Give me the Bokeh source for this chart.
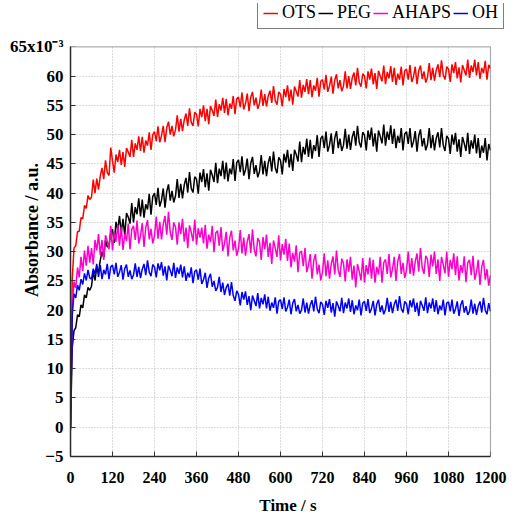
from bokeh.plotting import figure
from bokeh.models import Range1d, Legend, LegendItem, FixedTicker, BoxAnnotation
from bokeh.embed import file_html
from bokeh.resources import INLINE

time_s = list(range(0, 1205, 5))

ots = [
    0.0, 25.4, 30.6, 31.0, 33.4, 33.5, 35.8, 35.6, 37.9, 37.4, 39.6, 38.9,
    39.3, 42.3, 40.0, 42.5, 40.6, 42.9, 44.3, 42.4, 45.6, 43.5, 43.0, 47.8,
    45.5, 43.5, 46.6, 45.3, 47.4, 44.8, 47.0, 44.5, 47.7, 47.0, 46.2, 49.1,
    46.2, 48.5, 47.4, 49.7, 47.2, 49.6, 46.9, 49.0, 48.1, 50.4, 47.4, 50.0,
    50.5, 48.9, 51.4, 48.7, 49.8, 51.5, 48.7, 51.2, 52.2, 50.0, 51.5, 49.7,
    50.8, 53.3, 50.5, 52.7, 50.6, 52.5, 53.6, 51.5, 54.5, 52.1, 51.5, 53.8,
    53.5, 51.4, 54.4, 53.0, 55.0, 52.3, 54.4, 51.8, 54.9, 54.1, 53.2, 56.0,
    53.0, 55.2, 54.1, 56.3, 53.7, 56.1, 53.3, 55.3, 54.4, 56.6, 53.5, 56.1,
    56.4, 54.7, 57.2, 54.3, 55.3, 57.0, 54.0, 56.4, 57.3, 55.0, 56.3, 54.4,
    55.3, 57.7, 54.9, 56.9, 54.8, 56.6, 57.5, 55.4, 58.3, 55.8, 55.1, 57.3,
    56.9, 54.8, 57.8, 56.4, 58.4, 55.7, 57.7, 55.1, 58.2, 57.4, 56.5, 59.3,
    56.3, 58.5, 57.3, 59.5, 56.9, 59.3, 56.4, 58.4, 57.5, 59.7, 56.5, 59.1,
    59.4, 57.7, 60.2, 57.3, 58.3, 59.9, 57.0, 59.3, 60.3, 57.9, 59.3, 57.4,
    58.3, 60.8, 57.9, 60.0, 57.8, 59.7, 60.6, 58.4, 61.4, 58.9, 58.2, 60.4,
    60.0, 57.9, 60.8, 59.4, 61.3, 58.6, 60.5, 57.8, 60.9, 60.0, 59.1, 61.8,
    58.6, 60.7, 59.6, 61.7, 59.0, 61.4, 58.5, 60.4, 59.4, 61.6, 58.4, 60.9,
    61.2, 59.4, 61.9, 59.0, 59.9, 61.6, 58.6, 60.9, 61.8, 59.5, 60.8, 58.9,
    59.8, 62.2, 59.3, 61.4, 59.2, 61.0, 62.0, 59.8, 62.7, 60.2, 59.4, 61.6,
    61.2, 59.0, 62.0, 60.5, 62.4, 59.6, 61.5, 58.9, 61.9, 61.0, 60.1, 62.8,
    59.7, 61.8, 60.7, 62.8, 60.1, 62.4, 59.5, 61.4, 60.5, 62.6, 59.4, 61.9,
    61.3,
]

peg = [
    0.0, 13.6, 16.5, 17.0, 19.2, 18.9, 20.9, 20.4, 22.6, 22.1, 23.9, 23.4,
    24.1, 26.6, 25.1, 27.3, 26.4, 28.5, 30.0, 29.0, 32.0, 30.8, 31.0, 33.3,
    33.8, 31.5, 35.1, 33.7, 36.1, 33.2, 35.6, 32.8, 36.6, 35.9, 34.8, 38.3,
    35.0, 37.6, 36.4, 39.1, 36.0, 38.9, 35.8, 38.1, 37.2, 39.9, 36.3, 39.4,
    40.0, 38.0, 40.9, 37.7, 38.8, 40.8, 37.5, 40.3, 41.5, 38.7, 40.4, 38.4,
    39.5, 42.4, 39.2, 41.6, 39.1, 41.4, 42.6, 40.1, 43.6, 40.8, 40.1, 42.8,
    42.4, 39.9, 43.5, 41.9, 44.1, 41.0, 43.4, 40.4, 44.0, 43.1, 41.9, 45.2,
    41.7, 44.2, 42.9, 45.5, 42.4, 45.2, 42.0, 44.2, 43.2, 45.8, 42.1, 45.2,
    45.7, 43.6, 46.3, 43.0, 44.0, 45.9, 42.4, 45.1, 46.2, 43.3, 44.8, 42.7,
    43.7, 46.5, 43.2, 45.5, 42.9, 45.2, 46.3, 43.7, 47.1, 44.3, 43.4, 46.1,
    45.6, 43.2, 46.7, 45.2, 47.4, 44.4, 46.7, 43.8, 47.4, 46.6, 45.4, 48.8,
    45.3, 47.9, 46.6, 49.3, 46.2, 49.1, 45.9, 48.2, 47.2, 49.9, 46.2, 49.3,
    49.8, 47.7, 50.5, 47.1, 48.2, 50.2, 46.7, 49.4, 50.6, 47.7, 49.3, 47.2,
    48.2, 51.0, 47.6, 50.0, 47.4, 49.6, 50.6, 48.1, 51.5, 48.7, 47.8, 50.4,
    49.9, 47.3, 50.7, 49.1, 51.2, 48.0, 50.2, 47.1, 50.7, 49.7, 48.5, 51.7,
    48.1, 50.5, 49.1, 51.6, 48.4, 51.0, 47.7, 49.8, 48.6, 51.1, 47.3, 50.1,
    50.5, 48.4, 51.1, 47.8, 48.8, 50.6, 47.1, 49.8, 50.9, 48.0, 49.4, 47.3,
    48.3, 51.1, 47.7, 49.9, 47.3, 49.4, 50.4, 47.8, 51.1, 48.2, 47.2, 49.8,
    49.3, 46.7, 50.0, 48.3, 50.3, 47.1, 49.2, 46.2, 49.6, 48.5, 47.2, 50.3,
    46.7, 49.0, 47.6, 50.0, 46.8, 49.4, 46.0, 48.1, 46.9, 49.4, 45.6, 48.4,
    47.3,
]

ahaps = [
    0.0, 20.4, 24.9, 23.8, 27.3, 25.6, 29.1, 26.7, 30.2, 27.6, 31.0, 28.1,
    30.6, 27.8, 32.0, 30.2, 33.0, 29.4, 32.0, 28.6, 32.8, 31.8, 30.4, 34.4,
    30.2, 33.2, 31.7, 34.6, 31.0, 34.3, 30.3, 33.0, 31.8, 34.8, 30.4, 33.8,
    34.4, 32.0, 35.3, 31.4, 32.7, 34.9, 30.8, 34.1, 35.4, 32.1, 33.9, 31.4,
    32.7, 36.0, 32.2, 35.1, 32.1, 34.7, 36.1, 32.9, 36.8, 33.3, 32.0, 35.0,
    34.2, 31.2, 35.0, 33.0, 35.6, 31.7, 34.1, 30.6, 34.5, 33.3, 31.8, 35.5,
    31.2, 34.0, 32.4, 34.1, 31.4, 34.6, 30.5, 32.9, 31.6, 34.4, 29.9, 33.2,
    33.6, 31.0, 34.2, 30.1, 31.4, 33.4, 29.2, 32.4, 33.6, 30.2, 31.9, 29.3,
    30.5, 33.7, 29.7, 32.4, 29.3, 31.7, 33.0, 29.8, 33.8, 30.3, 29.2, 32.3,
    31.7, 28.6, 32.5, 30.4, 32.9, 29.1, 31.5, 27.9, 31.9, 30.6, 29.1, 32.8,
    28.5, 31.3, 29.5, 32.2, 28.4, 31.4, 27.3, 29.8, 28.3, 31.1, 26.5, 29.8,
    30.1, 27.5, 30.6, 26.5, 27.7, 29.6, 25.4, 28.5, 29.6, 26.1, 27.8, 25.1,
    26.5, 29.7, 25.8, 28.5, 25.4, 27.9, 29.2, 26.1, 30.2, 26.8, 25.7, 28.8,
    28.0, 24.9, 28.7, 26.6, 29.1, 25.2, 27.6, 23.9, 27.9, 26.6, 25.1, 28.9,
    24.7, 27.7, 26.1, 29.0, 25.4, 28.6, 24.7, 27.4, 26.1, 29.1, 24.7, 28.1,
    28.7, 26.2, 29.6, 25.6, 27.0, 29.1, 25.0, 28.3, 29.6, 26.2, 28.1, 25.5,
    26.8, 30.0, 26.2, 28.9, 25.9, 28.3, 29.7, 26.6, 30.6, 27.2, 26.2, 29.3,
    28.7, 25.7, 29.5, 27.5, 30.0, 26.2, 28.7, 25.0, 29.1, 27.8, 26.3, 30.0,
    25.7, 28.6, 27.0, 29.7, 26.0, 29.2, 25.1, 27.7, 26.4, 29.2, 24.8, 28.1,
    28.6, 26.0, 29.3, 25.2, 26.5, 28.6, 24.3, 27.4, 28.6, 25.2, 27.0, 24.2,
    26.0,
]

oh = [
    -0.5, 19.2, 22.8, 22.1, 24.3, 23.4, 25.3, 24.4, 26.3, 25.1, 26.9, 25.5,
    25.3, 27.1, 26.2, 27.9, 25.7, 27.7, 25.3, 26.9, 26.1, 27.9, 25.3, 27.4,
    27.7, 26.1, 28.1, 25.7, 26.5, 27.7, 25.2, 27.1, 27.8, 25.7, 26.8, 25.3,
    26.0, 28.0, 25.7, 27.4, 25.5, 27.0, 27.9, 26.0, 28.5, 26.5, 25.8, 27.8,
    27.4, 25.6, 28.0, 26.8, 28.2, 25.9, 27.5, 25.1, 27.6, 26.8, 25.8, 28.1,
    25.5, 27.3, 26.2, 27.8, 25.6, 27.5, 25.0, 26.4, 25.6, 27.3, 24.6, 26.6,
    26.9, 25.2, 27.1, 24.5, 25.2, 26.4, 23.8, 25.5, 26.2, 24.0, 25.0, 23.3,
    23.9, 25.7, 23.1, 24.7, 22.6, 23.9, 24.5, 22.5, 24.8, 22.5, 21.6, 23.3,
    22.7, 20.8, 23.1, 21.8, 23.2, 20.9, 22.4, 20.0, 22.5, 21.6, 20.7, 22.9,
    20.3, 22.1, 21.0, 22.7, 20.3, 22.3, 19.9, 21.3, 20.4, 22.2, 19.4, 21.5,
    21.8, 20.2, 22.2, 19.8, 20.5, 21.8, 19.3, 21.2, 21.9, 19.8, 20.9, 19.4,
    20.0, 22.0, 19.6, 21.3, 19.4, 20.9, 21.7, 19.8, 22.3, 20.2, 19.5, 21.4,
    21.0, 19.2, 21.6, 20.4, 21.9, 19.6, 21.2, 18.9, 21.5, 20.7, 19.8, 22.1,
    19.5, 21.3, 20.3, 22.0, 19.7, 21.7, 19.3, 20.8, 20.0, 21.8, 19.1, 21.2,
    21.5, 19.9, 21.9, 19.5, 20.3, 21.6, 19.1, 21.0, 21.8, 19.7, 20.8, 19.3,
    20.1, 22.1, 19.7, 21.4, 19.5, 21.0, 21.8, 19.9, 22.4, 20.3, 19.6, 21.5,
    21.1, 19.3, 21.7, 20.5, 22.0, 19.7, 21.3, 19.0, 21.6, 20.8, 19.9, 22.2,
    19.5, 21.3, 20.3, 22.0, 19.7, 21.7, 19.3, 20.8, 20.0, 21.8, 19.1, 21.2,
    21.4, 19.8, 21.8, 19.4, 20.2, 21.5, 19.0, 20.9, 21.7, 19.6, 20.7, 19.2,
    19.8, 21.8, 19.4, 21.1, 19.2, 20.7, 21.5, 19.6, 22.1, 20.0, 19.3, 21.2,
    19.8,
]

series_names = ["OTS", "PEG", "AHAPS", "OH"]
series_colors = ["#ff0000", "#000000", "#ff00cc", "#0000ff"]
x_ticks = [0, 120, 240, 360, 480, 600, 720, 840, 960, 1080, 1200]
y_ticks = [-5, 0, 5, 10, 15, 20, 25, 30, 35, 40, 45, 50, 55, 60, 65]
top_tick_label = "65x10\u207b\u00b3"
x_min, x_max, x_room = 0, 1200, 1242.9
y_min, y_max, y_room = -5, 65, 72.4

SERIF = "Liberation Serif"

p = figure(width=511, height=517, output_backend="svg", toolbar_location=None,
           x_range=Range1d(x_min, x_room), y_range=Range1d(y_min, y_room),
           min_border_left=70, min_border_right=6, min_border_top=3, min_border_bottom=58)
p.background_fill_color = "white"
p.border_fill_color = "white"
p.outline_line_color = None

renderers = []
for name, col, ys in zip(series_names, series_colors, [ots, peg, ahaps, oh]):
    r = p.line(time_s, ys, line_color=col, line_width=1.5)
    renderers.append(r)

# blank margins above and right of the data area (room for the legend), then the frame
p.add_layout(BoxAnnotation(bottom=y_max, fill_color="white", fill_alpha=1, line_color=None))
p.add_layout(BoxAnnotation(left=x_max, fill_color="white", fill_alpha=1, line_color=None))
p.add_layout(BoxAnnotation(left=x_min, right=x_max, bottom=y_min, top=y_max, fill_alpha=0,
                           line_color="black", line_width=1.2))

p.xaxis.ticker = FixedTicker(ticks=x_ticks)
p.yaxis.ticker = FixedTicker(ticks=y_ticks)
p.xaxis.bounds = (x_min, x_max)
p.yaxis.bounds = (y_min, y_max)
p.yaxis.major_label_overrides = {65: top_tick_label}

for ax in (p.xaxis[0], p.yaxis[0]):
    ax.major_tick_in = 5
    ax.major_tick_out = 0
    ax.minor_tick_in = 0
    ax.minor_tick_out = 0
    ax.axis_line_color = "#333333"
    ax.axis_line_width = 1.5
    ax.major_tick_line_color = "#333333"
    ax.major_label_text_font = SERIF
    ax.major_label_text_font_style = "bold"
    ax.major_label_text_color = "black"
    ax.axis_label_text_font = SERIF
    ax.axis_label_text_font_style = "bold"
    ax.axis_label_text_color = "black"

p.xaxis.major_label_text_font_size = "16px"
p.yaxis.major_label_text_font_size = "17px"
p.xaxis.major_label_standoff = 15
p.yaxis.major_label_standoff = 7
p.xaxis.axis_label = "Time / s"
p.yaxis.axis_label = "Absorbance / a.u."
p.xaxis.axis_label_text_font_size = "17px"
p.yaxis.axis_label_text_font_size = "18px"
p.xaxis.axis_label_standoff = 10
p.yaxis.axis_label_standoff = -35

p.grid.grid_line_color = "#b8b8b8"
p.grid.grid_line_dash = "1 2"
p.grid.grid_line_width = 1

legend = Legend(items=[LegendItem(label=n, renderers=[r]) for n, r in zip(series_names, renderers)],
                orientation="horizontal", location=(187, 427))
legend.label_text_font = SERIF
legend.label_text_font_size = "18px"
legend.label_text_color = "black"
legend.glyph_width = 15
legend.label_standoff = 4
legend.spacing = 2
legend.padding = 5
legend.margin = 0
legend.border_line_color = "black"
legend.border_line_width = 1
legend.background_fill_alpha = 1
p.add_layout(legend)

open("out.html", "w").write(file_html(p, INLINE))
